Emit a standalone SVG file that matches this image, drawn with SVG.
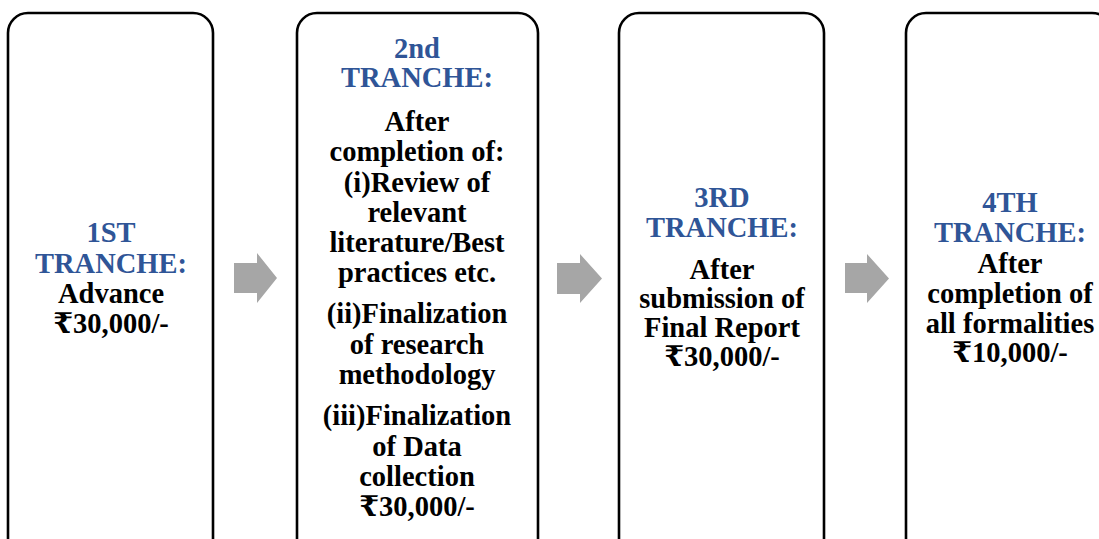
<svg xmlns="http://www.w3.org/2000/svg" width="1099" height="539" viewBox="0 0 1099 539">
<style>
.box{fill:#fff;stroke:#000;stroke-width:2.6}
.t{font-family:"Liberation Serif","Times New Roman","DejaVu Serif",serif;font-weight:bold;font-size:28.5px;text-anchor:middle;fill:#000}
.h{fill:#2F5597}
.arr{fill:#A6A6A6}
</style>
<rect width="1099" height="539" fill="#fff"/>
<g id="connectors">
<polygon class="arr" points="234,263 257,263 257,253 277,278 257,303 257,293 234,293"/>
<polygon class="arr" points="557,263 580,263 580,254 602,278.5 580,303 580,294 557,294"/>
<polygon class="arr" points="845,263 867,263 867,254 889,278.5 867,303 867,293 845,293"/>
</g>
<g id="node1">
<rect class="box" x="8" y="13" width="205" height="560" rx="20"/>
<text class="t" x="111"><tspan class="h" x="111" y="242">1ST</tspan><tspan class="h" x="111" y="273">TRANCHE:</tspan><tspan x="111" y="303">Advance</tspan><tspan x="111" y="333">₹30,000/-</tspan></text>
</g>
<g id="node2">
<rect class="box" x="297" y="13" width="241" height="560" rx="20"/>
<text class="t" x="417"><tspan class="h" x="417" y="58">2nd</tspan><tspan class="h" x="417" y="87">TRANCHE:</tspan><tspan x="417" y="131">After</tspan><tspan x="417" y="161">completion of:</tspan><tspan x="417" y="192">(i)Review of</tspan><tspan x="417" y="222">relevant</tspan><tspan x="417" y="252">literature/Best</tspan><tspan x="417" y="282">practices etc.</tspan><tspan x="417" y="323">(ii)Finalization</tspan><tspan x="417" y="354">of research</tspan><tspan x="417" y="384">methodology</tspan><tspan x="417" y="425">(iii)Finalization</tspan><tspan x="417" y="456">of Data</tspan><tspan x="417" y="486">collection</tspan><tspan x="417" y="516">₹30,000/-</tspan></text>
</g>
<g id="node3">
<rect class="box" x="619" y="13" width="205" height="560" rx="20"/>
<text class="t" x="722"><tspan class="h" x="722" y="207">3RD</tspan><tspan class="h" x="722" y="237">TRANCHE:</tspan><tspan x="722" y="279">After</tspan><tspan x="722" y="308">submission of</tspan><tspan x="722" y="337">Final Report</tspan><tspan x="722" y="366">₹30,000/-</tspan></text>
</g>
<g id="node4">
<rect class="box" x="906" y="13" width="206" height="560" rx="20"/>
<text class="t" x="1010"><tspan class="h" x="1010" y="212">4TH</tspan><tspan class="h" x="1010" y="242">TRANCHE:</tspan><tspan x="1010" y="273">After</tspan><tspan x="1010" y="303">completion of</tspan><tspan x="1010" y="333">all formalities</tspan><tspan x="1010" y="362">₹10,000/-</tspan></text>
</g>
</svg>
